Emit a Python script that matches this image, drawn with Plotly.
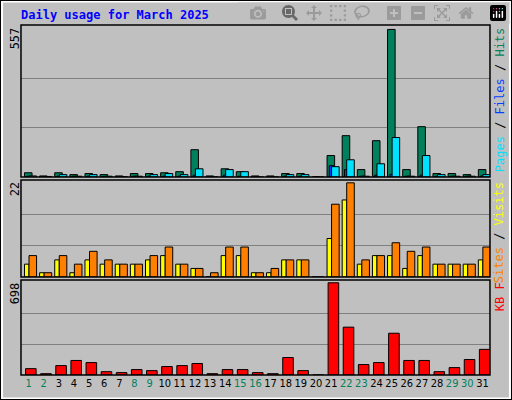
import plotly.graph_objects as go

days = list(range(1, 32))
hits = [16, 4, 16, 9, 13, 9, 4, 13, 13, 16, 20, 103, 4, 31, 20, 4, 4, 13, 13, 0,
        81, 156, 28, 137, 557, 28, 190, 13, 13, 9, 28]
files = [4, 2, 9, 3, 9, 3, 1, 3, 9, 13, 9, 31, 0, 28, 20, 0, 0, 9, 9, 0,
         39, 65, 3, 50, 149, 3, 81, 9, 3, 3, 9]
pages = [3, 1, 3, 3, 3, 2, 1, 3, 3, 3, 3, 7, 0, 7, 3, 0, 0, 3, 3, 0,
         43, 28, 3, 7, 10, 3, 7, 3, 3, 3, 4]
sites = [3, 1, 4, 1, 4, 3, 3, 3, 4, 5, 3, 2, 0, 5, 5, 1, 1, 4, 4, 0,
         9, 18, 3, 5, 5, 2, 5, 3, 3, 3, 4]
visits = [5, 1, 5, 3, 6, 4, 3, 3, 5, 7, 3, 2, 1, 7, 7, 1, 2, 4, 4, 0,
          17, 22, 4, 5, 8, 6, 7, 3, 3, 3, 7]
kbytes = [48, 10, 71, 110, 94, 25, 18, 41, 33, 64, 71, 87, 10, 41, 41, 18, 10, 132, 33, 0,
          698, 362, 79, 94, 316, 110, 110, 25, 56, 117, 194]
weekend = [1, 2, 8, 9, 15, 16, 22, 23, 29, 30]
max_hits, max_visits, max_kb = 557, 22, 698

MONO = "DejaVu Sans Mono"
line = dict(color="black", width=1)
fig = go.Figure()

def bars(y, color, off, w, ax):
    fig.add_trace(go.Bar(x=days, y=y, marker=dict(color=color, line=line),
                         offset=off, width=w, xaxis="x", yaxis=ax, showlegend=False))

bars(hits, "#00805C", -0.27, 0.5, "y")
bars(pages, "#0040FF", -0.12, 0.3, "y")
bars(files, "#00E0FF", 0.03, 0.5, "y")
bars(sites, "#FFFF00", -0.27, 0.3, "y2")
bars(visits, "#FF8000", 0.03, 0.5, "y2")
bars(kbytes, "#FF0000", -0.2, 0.7, "y3")

ticktext = [f"<span style='color:{'#00805C' if d in weekend else 'black'}'>{d}</span>" for d in days]
dom_x = [0.041, 0.957]
fig.update_layout(
    width=512, height=400, margin=dict(l=0, r=0, t=0, b=0),
    paper_bgcolor="#C0C0C0", plot_bgcolor="#C0C0C0", barmode="overlay",
    font=dict(family=MONO, size=11, color="black"),
    xaxis=dict(domain=dom_x, range=[0.5, 31.5], tickvals=days, ticktext=ticktext,
               showgrid=False, ticks="", anchor="y3", tickangle=0,
               tickfont=dict(size=11, family="DejaVu Sans Condensed")),
)
for name, dom, mx in [("yaxis", [0.5575, 0.9375], max_hits),
                      ("yaxis2", [0.3075, 0.55], max_visits),
                      ("yaxis3", [0.0625, 0.30], max_kb)]:
    fig.update_layout(**{name: dict(domain=dom, range=[0, mx * 1.03], tickvals=[mx / 3, mx * 2 / 3],
                                    showticklabels=False, gridcolor="#808080", zeroline=False,
                                    anchor="x")})

shapes = [dict(type="rect", xref="paper", yref="paper", x0=0.004, x1=0.996, y0=0.004, y1=0.996,
               line=dict(color="white", width=2)),
          dict(type="rect", xref="paper", yref="paper", x0=0, x1=1, y0=0, y1=1,
               line=dict(color="black", width=2))]
for dom in [[0.5575, 0.9375], [0.3075, 0.55], [0.0625, 0.30]]:
    shapes.append(dict(type="rect", xref="paper", yref="paper", x0=dom_x[0], x1=dom_x[1],
                       y0=dom[0], y1=dom[1], line=dict(color="black", width=1.5)))
fig.update_layout(shapes=shapes)

ann = [dict(text="<b>Daily usage for March 2025</b>", x=0.037, y=0.985, xref="paper", yref="paper",
            xanchor="left", yanchor="top", showarrow=False, font=dict(color="#0000FF", size=12))]
for txt, top in [(str(max_hits), 0.9375), (str(max_visits), 0.55), (str(max_kb), 0.30)]:
    ann.append(dict(text=txt, x=0.03, y=top, xref="paper", yref="paper", textangle=-90,
                    xanchor="center", yanchor="top", showarrow=False, font=dict(size=12)))
right = [("<span style='color:#00E0FF'>Pages</span> / <span style='color:#0040FF'>Files</span>"
          " / <span style='color:#00805C'>Hits</span>", 0.9375),
         ("<span style='color:#FF8000'>Sites</span> / <span style='color:#FFFF00'>Visits</span>", 0.55),
         ("<span style='color:#FF0000'>KB F</span>", 0.30)]
for txt, top in right:
    ann.append(dict(text=txt, x=0.976, y=top, xref="paper", yref="paper", textangle=-90,
                    xanchor="center", yanchor="top", showarrow=False, font=dict(size=12)))
fig.update_layout(annotations=ann)

fig.write_html("out.html", post_script="document.body.style.margin='0';")
